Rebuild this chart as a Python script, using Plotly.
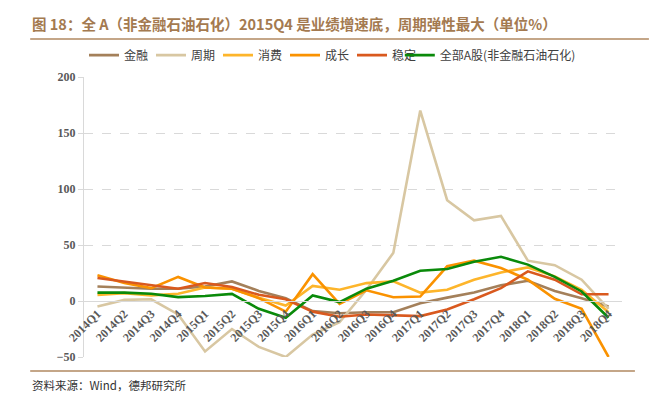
import plotly.graph_objects as go

quarters = ["2014Q1", "2014Q2", "2014Q3", "2014Q4", "2015Q1", "2015Q2", "2015Q3", "2015Q4",
            "2016Q1", "2016Q2", "2016Q3", "2016Q4", "2017Q1", "2017Q2", "2017Q3", "2017Q4",
            "2018Q1", "2018Q2", "2018Q3", "2018Q4"]

finance = [13, 12, 11, 11, 13, 17.5, 9, 2.5, -9, -11, -10, -10, -2, 3, 7.5, 14, 18, 9, 2.5, -5]
cyclical = [-5, 1, 1.5, -12, -45, -25, -41, -50, -30, -19, 10, 43, 170, 90, 72, 76, 36, 32, 19, -7]
consumer = [5.5, 7, 5, 6.5, 12, 11, 3, -4, 13.5, 10, 16, 17.5, 7.5, 10, 19, 25.5, 30, 22, 10, -10]
growth = [23, 16, 11.5, 21.5, 12, 11, 2.5, -9.5, 24, -2.5, 9.5, 3.3, 4, 31, 36, 29.5, 19, 2, -7, -50]
stable = [20.5, 17.5, 14, 11, 16, 12.5, 5.5, 1.5, -9.5, -14, -12, -13, -13.5, -7.5, 1.5, 11.5, 26.5, 19, 6, 6]
all_a = [7.5, 7.5, 6.5, 3.5, 4.5, 6.3, -7, -15, 5, -1, 11, 18, 27, 28.5, 35, 39.5, 32.5, 21.5, 8.5, -15]

series_names = ["金融", "周期", "消费", "成长", "稳定", "全部A股(非金融石油石化)"]
series_values = [finance, cyclical, consumer, growth, stable, all_a]
series_colors = ["#A4805A", "#D8C7A2", "#FDB52B", "#FA9200", "#D9591E", "#0A8A0A"]
series_legends = ["legend", "legend", "legend", "legend", "legend", "legend2"]

y_ticks = [-50, 0, 50, 100, 150, 200]

title_text = "图 18：全 A（非金融石油石化）2015Q4 是业绩增速底，周期弹性最大（单位%）"
source_text = "资料来源：Wind，德邦研究所"

fig = go.Figure()
for name, vals, col, lg in zip(series_names, series_values, series_colors, series_legends):
    fig.add_trace(go.Scatter(x=quarters, y=vals, name=name, mode="lines", legend=lg,
                             line=dict(color=col, width=2.6), cliponaxis=True))

serif = "Liberation Serif"
cjk = "Noto Sans CJK SC"
legend_font = dict(family=cjk, size=12, color="#404040")
tick_font = dict(family=serif, size=12, color="#595959", weight="bold")

# page body has an 8px margin, so the figure is 8px smaller and margins are shifted
fig.update_layout(
    width=649, height=389,
    margin=dict(l=76, r=35, t=69, b=40),
    paper_bgcolor="white", plot_bgcolor="white",
    showlegend=True,
    legend=dict(orientation="h", x=0.0, xanchor="left", y=1.078, yanchor="middle",
                font=legend_font, entrywidth=22, entrywidthmode="pixels", itemwidth=30,
                bgcolor="rgba(0,0,0,0)"),
    legend2=dict(orientation="h", x=0.587, xanchor="left", y=1.078, yanchor="middle",
                 font=legend_font, itemwidth=30, bgcolor="rgba(0,0,0,0)"),
    xaxis=dict(type="category", categoryorder="array", categoryarray=quarters,
               range=[-0.5, 19.5], anchor="free", position=0.2,
               showline=True, linecolor="#D9D9D9", linewidth=1,
               showgrid=False, zeroline=False, ticks="", tickangle=-45,
               tickfont=tick_font),
    yaxis=dict(range=[-50, 200], tickvals=y_ticks,
               showgrid=True, gridcolor="#D9D9D9", griddash="dash", gridwidth=1,
               zeroline=True, zerolinecolor="#D9D9D9", zerolinewidth=1,
               showline=True, linecolor="#D9D9D9", linewidth=1,
               ticks="outside", ticklen=5, tickcolor="#D9D9D9",
               tickfont=tick_font),
)

fig.add_annotation(text=title_text, xref="paper", yref="paper", x=-0.1, y=1.192,
                   xanchor="left", yanchor="middle", showarrow=False,
                   font=dict(family=cjk, size=14.5, color="#A47A50", weight="bold"))
fig.add_annotation(text=source_text, xref="paper", yref="paper", x=-0.1, y=-0.10,
                   xanchor="left", yanchor="middle", showarrow=False,
                   font=dict(family=cjk, size=11.5, color="#333333"))
fig.add_shape(type="line", xref="paper", yref="paper", x0=-0.1, x1=1.05, y0=1.136, y1=1.136,
              line=dict(color="#B08860", width=1.5))
fig.add_shape(type="line", xref="paper", yref="paper", x0=-0.1, x1=1.024, y0=-0.05, y1=-0.05,
              line=dict(color="#B08860", width=1.5))

fig.write_html("out.html")
